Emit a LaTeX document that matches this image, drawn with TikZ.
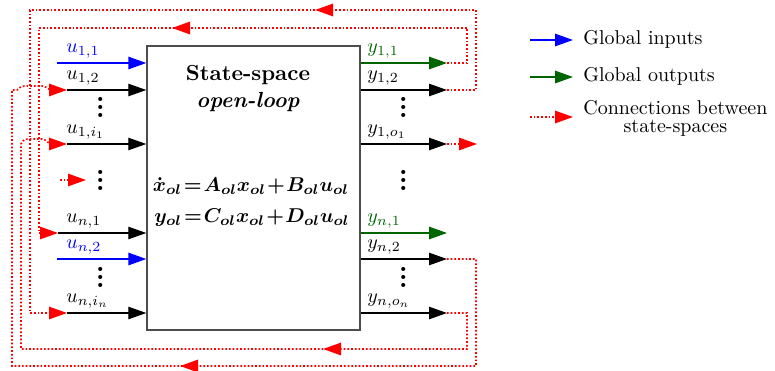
\documentclass[tikz,border=0pt]{standalone}
\usepackage{amsmath}
\usepackage{xcolor}
\usepackage{tikz}
\usetikzlibrary{arrows.meta,decorations.markings}
\definecolor{outgreen}{RGB}{0,100,0}
\newcommand{\tightmath}{\thickmuskip=1.5mu\relax\medmuskip=1mu\relax}

\begin{document}
\begin{tikzpicture}[x=0.5pt,y=0.5pt,>={Triangle[length=9pt,width=6.2pt]},
  sig/.style={->,line width=0.6pt},
  gin/.style={->,line width=0.9pt,blue},
  gout/.style={->,line width=0.9pt,outgreen},
  conn/.style={->,red,densely dotted,line width=0.85pt},
  midarr/.style={postaction={decorate},decoration={markings,mark=at position #1 with {\arrow{>}}}},
  lbl/.style={anchor=south west,inner sep=1pt},
  vdot/.style={font=\Huge,inner sep=0pt,text height=10.7pt,text depth=0pt},
  ttlfont/.style={font=\fontsize{10.9}{13}\selectfont\bfseries#1},ttlfont/.default={}]
\useasboundingbox (0,0) rectangle (775,370);
\node[draw=black!70,line width=0.7pt,minimum width=106.5pt,minimum height=142pt,inner sep=0pt] (ss) at (253.5,182) {};
\node[ttlfont] (ttl) at (248,295) {State-space};
\node[ttlfont=\itshape] (olp) at (248,268) {open-loop};
\node (eqa) at (251,184) {$\tightmath\boldsymbol{\dot{x}_{ol}=A_{ol}x_{ol}+B_{ol}u_{ol}}$};
\node (eqb) at (252,152) {$\tightmath\boldsymbol{y_{ol}=C_{ol}x_{ol}+D_{ol}u_{ol}}$};
% inputs
\coordinate (a11) at (57,307);\coordinate (a12) at (67,280);\coordinate (a1i) at (67,226);
\coordinate (an1) at (58,137);\coordinate (an2) at (57,111);\coordinate (ani) at (67,57);
\draw[gin](a11)--(a11-|ss.west);\draw[sig](a12)--(a12-|ss.west);\draw[sig](a1i)--(a1i-|ss.west);
\draw[sig](an1)--(an1-|ss.west);\draw[gin](an2)--(an2-|ss.west);\draw[sig](ani)--(ani-|ss.west);
\node[lbl,blue] (lu11) at (64,309) {$u_{1,1}$};
\node[lbl] (lu12) at (64,282) {$u_{1,2}$};
\node[lbl] (lu1i) at (64,228) {$u_{1,i_1}$};
\node[lbl] (lun1) at (64,139) {$u_{n,1}$};
\node[lbl,blue] (lun2) at (64,113) {$u_{n,2}$};
\node[lbl] (luni) at (64,59) {$u_{n,i_n}$};
\node[vdot] (da1) at (101,263) {$\vdots$};
\node[vdot] (da2) at (101,190) {$\vdots$};
\node[vdot] (da3) at (101,93) {$\vdots$};
% outputs
\coordinate (b11) at (447,307);\coordinate (b12) at (447,280);\coordinate (b1o) at (447,226);
\coordinate (bn1) at (447,137);\coordinate (bn2) at (447,111);\coordinate (bno) at (447,57);
\draw[gout](b11-|ss.east)--(b11);\draw[sig](b12-|ss.east)--(b12);\draw[sig](b1o-|ss.east)--(b1o);
\draw[gout](bn1-|ss.east)--(bn1);\draw[sig](bn2-|ss.east)--(bn2);\draw[sig](bno-|ss.east)--(bno);
\node[lbl,outgreen] (ly11) at (365,309) {$y_{1,1}$};
\node[lbl] (ly12) at (365,282) {$y_{1,2}$};
\node[lbl] (ly1o) at (365,228) {$y_{1,o_1}$};
\node[lbl,outgreen] (lyn1) at (365,139) {$y_{n,1}$};
\node[lbl] (lyn2) at (365,113) {$y_{n,2}$};
\node[lbl] (lyno) at (365,59) {$y_{n,o_n}$};
\node[vdot] (db1) at (404,263) {$\vdots$};
\node[vdot] (db2) at (404,190) {$\vdots$};
\node[vdot] (db3) at (404,93) {$\vdots$};
% connections between state-spaces
\draw[conn,midarr=175pt](b11)-|(467,342)--(39,342)|-(an1);
\draw[conn,midarr=135pt](b12)-|(476,360)--(30,360)|-(ani);
\draw[conn,midarr=216pt](bn2)-|(476,4)--(12,4)--(12,280)--(17,280)..controls(21,284)and(23,284)..(27,284)--(42,284)..controls(46,284)and(48,280)..(52,280)--(a12);
\draw[conn,midarr=100pt](bno)-|(467,21)--(21,21)--(21,226)..controls(24,231)and(25,231)..(28,231)--(42,231)..controls(46,231)and(48,226)..(52,226)--(a1i);
\coordinate (mfrom) at (60,190);\coordinate (mto) at (86,190);\draw[conn](mfrom)--(mto);
\coordinate (cto) at (477,226);\draw[conn](b1o)--(cto);
% legend
\coordinate (g1) at (530,330);\coordinate (g1e) at (573,330);
\coordinate (g2) at (530,293);\coordinate (g2e) at (573,293);
\coordinate (g3) at (530,253);\coordinate (g3e) at (573,253);
\draw[gin](g1)--(g1e);\draw[gout](g2)--(g2e);\draw[conn](g3)--(g3e);
\node[anchor=west,inner sep=2pt] (t1) at (579,331) {Global inputs};
\node[anchor=west,inner sep=2pt] (t2) at (579,294) {Global outputs};
\node[anchor=west,inner sep=2pt,align=center] (t3) at (579,252) {Connections between\\[-3pt]state-spaces};
\end{tikzpicture}
\end{document}
